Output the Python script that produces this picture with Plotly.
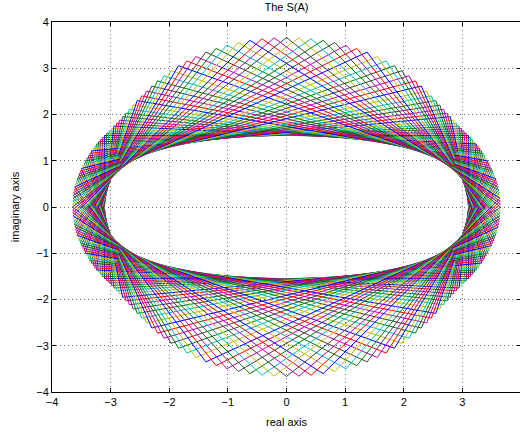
import numpy as np
import plotly.graph_objects as go

# ---- values ----
# points of the outer vertex curve in the first quadrant (parameter in degrees)
vertex_param_deg = [0, 7.5, 15, 22.5, 30, 37.5, 45, 52.5, 60, 67.5, 75, 82.5, 90]
vertex_x = [3.65, 3.63, 3.58, 3.50, 3.39, 3.26, 3.10, 2.92, 2.66, 2.28, 1.78, 0.93, 0.00]
vertex_y = [0.00, 0.29, 0.57, 0.84, 1.09, 1.32, 1.55, 1.80, 2.14, 2.60, 3.14, 3.53, 3.65]
# rotation (deg) of the quadrilaterals: 45 is the axis-aligned rectangle,
# the others come in mirrored pairs 45 -/+ offset
pair_offsets_deg = [1.6, 3.2, 4.8, 6.4, 8.0, 9.6, 11.3, 12.9, 14.5, 16.1, 17.7, 19.3,
                    20.9, 22.5, 24.1, 25.7, 27.3, 28.9, 30.5, 32.1, 33.8, 35.4,
                    37.0, 38.6, 40.2, 41.8, 43.4]
corner_offsets_deg = [0, 90, 180, 270, 360]
x_ticks = [-4, -3, -2, -1, 0, 1, 2, 3, 4]
y_ticks = [-4, -3, -2, -1, 0, 1, 2, 3, 4]
line_colors = ["rgb(0,0,255)", "rgb(0,128,0)", "rgb(255,0,0)", "rgb(0,191,191)",
               "rgb(191,0,191)", "rgb(191,191,0)", "rgb(64,64,64)"]

# smooth symmetric vertex curve through the read points (odd harmonics)
harm = np.array([1, 3, 5, 7, 9, 11])
tp = np.radians(vertex_param_deg)
cx = np.linalg.lstsq(np.cos(np.outer(tp, harm)), np.array(vertex_x), rcond=None)[0]
cy = np.linalg.lstsq(np.sin(np.outer(tp, harm)), np.array(vertex_y), rcond=None)[0]

def quad(theta_deg):
    t = np.radians(np.array(corner_offsets_deg) + theta_deg)
    return np.cos(np.outer(t, harm)) @ cx, np.sin(np.outer(t, harm)) @ cy

thetas = [45.0]
for d in pair_offsets_deg:
    thetas += [45.0 - d, 45.0 + d]
thetas.append(0.0)

fig = go.Figure()
for k, th in enumerate(thetas):
    x, y = quad(th)
    fig.add_trace(go.Scatter(x=x, y=y, mode="lines",
                             line=dict(color=line_colors[k % 7], width=1),
                             hoverinfo="skip", showlegend=False))

font = dict(family="Liberation Sans, Arial, sans-serif", size=11, color="black")
axis_common = dict(showline=True, linecolor="black", linewidth=1, mirror="ticks",
                   ticks="inside", ticklen=4, tickcolor="black", showgrid=True,
                   gridcolor="rgb(110,110,110)", griddash="1px,3px", gridwidth=1,
                   zeroline=False, tickfont=font)
fig.update_layout(
    width=521, height=436,
    margin=dict(l=52, r=0, t=22, b=44, autoexpand=False),
    paper_bgcolor="white", plot_bgcolor="white",
    title=dict(text="The S(A)", x=0.5, xref="paper", y=1, yref="container",
               yanchor="top", pad=dict(t=3), font=font),
    xaxis=dict(range=[-4, 4], tickvals=x_ticks,
               title=dict(text="real axis", font=font, standoff=11), **axis_common),
    yaxis=dict(range=[-4, 4], tickvals=y_ticks,
               title=dict(text="imaginary axis", font=font, standoff=14), **axis_common),
)
fig.write_html("out.html", config={"displayModeBar": False},
               post_script="document.body.style.margin='0';")
